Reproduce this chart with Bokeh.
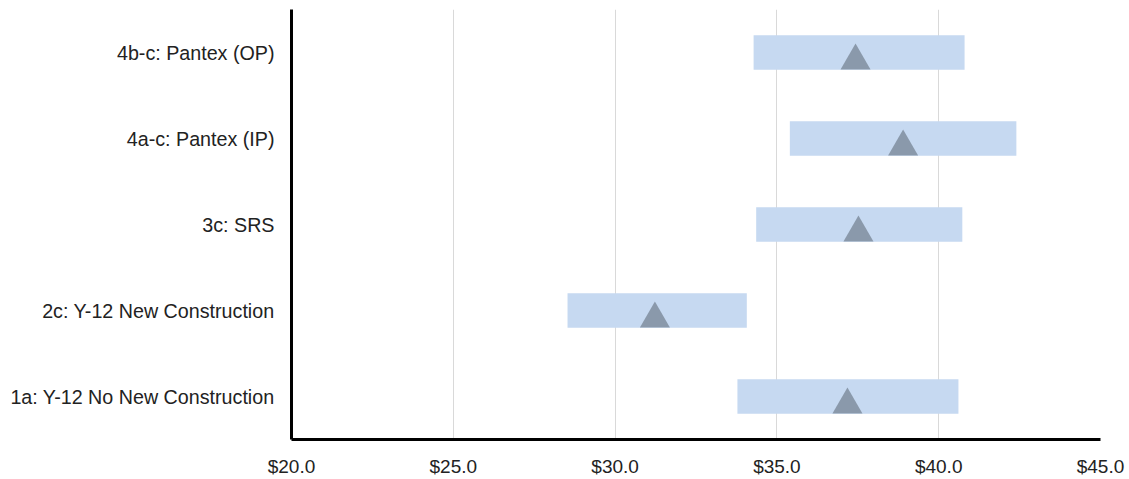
from bokeh.plotting import figure
from bokeh.models import Range1d, FixedTicker, NumeralTickFormatter, ColumnDataSource
from bokeh.transform import dodge
from bokeh.embed import file_html
from bokeh.resources import INLINE

# Data (bottom to top)
categories = ["1a: Y-12 No New Construction", "2c: Y-12 New Construction", "3c: SRS",
              "4a-c: Pantex (IP)", "4b-c: Pantex (OP)"]
low_vals = [33.78, 28.53, 34.36, 35.40, 34.28]
high_vals = [40.61, 34.07, 40.73, 42.40, 40.80]
point_vals = [37.18, 31.23, 37.52, 38.90, 37.43]
x_ticks = [20, 25, 30, 35, 40, 45]

ypos = list(range(len(categories)))
src = ColumnDataSource(dict(y=ypos, low=low_vals, high=high_vals, mid=point_vals))

p = figure(width=1129, height=479, output_backend="svg", toolbar_location=None,
           x_range=Range1d(20, 45), y_range=Range1d(-0.5, len(categories) - 0.5),
           min_border_left=291, min_border_right=29, min_border_top=9, min_border_bottom=39)
p.outline_line_color = None
p.background_fill_color = "white"
p.border_fill_color = "white"

p.hbar(y="y", left="low", right="high", height=0.4, source=src,
       fill_color="#c6d9f1", line_color=None)
p.scatter(x="mid", y=dodge("y", -0.097, range=p.y_range), source=src, marker="triangle",
          size=30, fill_color="#8a99ab", line_color=None)

# grids
p.ygrid.grid_line_color = None
p.xgrid.grid_line_color = "#d9d9d9"
p.xgrid.grid_line_width = 1

# x axis
p.xaxis.ticker = FixedTicker(ticks=x_ticks)
p.xaxis.formatter = NumeralTickFormatter(format="$0.0")
p.xaxis.axis_line_color = "black"
p.xaxis.axis_line_width = 3
p.xaxis.major_tick_line_color = None
p.xaxis.minor_tick_line_color = None
p.xaxis.major_tick_out = 0
p.xaxis.major_tick_in = 0
p.xaxis.major_label_standoff = 16
p.xaxis.major_label_text_font = "Liberation Sans"
p.xaxis.major_label_text_font_size = "19px"
p.xaxis.major_label_text_color = "#222222"

# y axis
p.yaxis.ticker = FixedTicker(ticks=ypos)
p.yaxis.major_label_overrides = {i: c for i, c in zip(ypos, categories)}
p.yaxis.axis_line_color = "black"
p.yaxis.axis_line_width = 3
p.yaxis.major_tick_line_color = None
p.yaxis.minor_tick_line_color = None
p.yaxis.major_tick_out = 0
p.yaxis.major_tick_in = 0
p.yaxis.major_label_standoff = 17
p.yaxis.major_label_text_font = "Liberation Sans"
p.yaxis.major_label_text_font_size = "19.7px"
p.yaxis.major_label_text_color = "#222222"

open("out.html", "w").write(file_html(p, INLINE))
